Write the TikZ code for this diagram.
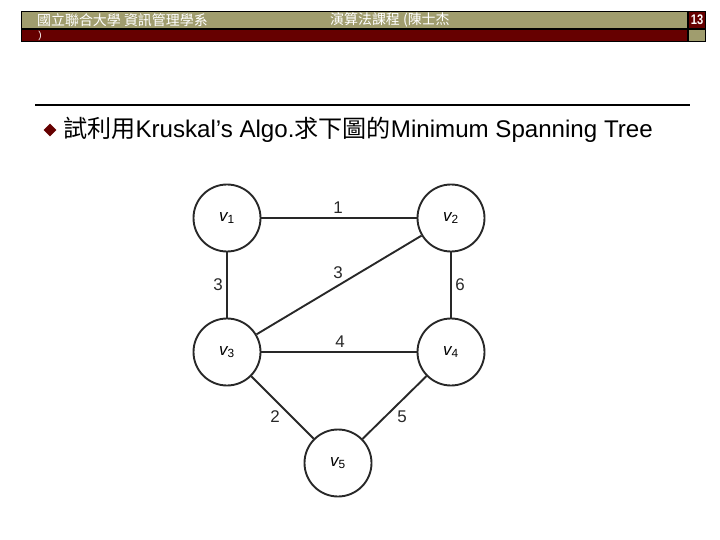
\documentclass[tikz,border=0pt]{standalone}
\usepackage{fontspec}
\setmainfont{Liberation Sans}
\newfontfamily\cjk{Noto Sans CJK TC}
\usetikzlibrary{shapes.geometric}
\definecolor{olive}{RGB}{160,157,110}
\definecolor{darkred}{RGB}{102,0,0}
\definecolor{edgegray}{RGB}{40,40,40}
\tikzset{
  vtx/.style={circle,draw=edgegray,line width=1.9pt,minimum size=67bp,inner sep=0pt,font=\fontsize{17}{17}\selectfont\itshape},
  edg/.style={draw=edgegray,line width=1.9pt},
  wlab/.style={font=\fontsize{17}{17}\selectfont,text=edgegray,inner sep=0pt},
  hdr/.style={font=\cjk\fontsize{14}{14}\selectfont,text=white,inner sep=0pt}
}
\begin{document}
\begin{tikzpicture}[x=1bp,y=-1bp]
\useasboundingbox (0,0) rectangle (720,540);
% header
\fill[black] (21,11) rectangle (706,42);
\fill[olive] (22,12) rectangle (687,28.5);
\fill[darkred] (689,12) rectangle (705,28.5);
\fill[darkred] (22,30.5) rectangle (687,41);
\fill[olive] (689,30.5) rectangle (705,41);
\node[hdr,anchor=west] (h1) at (37,20) {國立聯合大學 資訊管理學系};
\node[hdr,anchor=west] (h2) at (330,20) {演算法課程 (陳士杰};
\node[font=\fontsize{14}{14}\selectfont\bfseries,text=white,inner sep=0pt,xscale=0.8] (pg) at (697,20) {13};
\node[font=\fontsize{10}{10}\selectfont,text=white,inner sep=0pt] (par) at (40,36) {)};
% rule
\draw[line width=1.8pt] (35,105) -- (690,105);
% bullet
\node[diamond,fill=darkred,minimum size=13bp,inner sep=0pt] (bul) at (50,130) {};
\node[anchor=west,inner sep=0pt,font=\fontsize{24.2}{28}\selectfont] (title) at (63,130) {{\cjk 試利用}Kruskal’s Algo.{\cjk 求下圖的}Minimum Spanning Tree};
% graph
\node[vtx] (v1) at (227,218) {$\mathit{v}_{\mathrm{1}}$};
\node[vtx] (v2) at (451,218) {$\mathit{v}_{\mathrm{2}}$};
\node[vtx] (v3) at (227,352) {$\mathit{v}_{\mathrm{3}}$};
\node[vtx] (v4) at (451,352) {$\mathit{v}_{\mathrm{4}}$};
\node[vtx] (v5) at (338,463) {$\mathit{v}_{\mathrm{5}}$};
\draw[edg] (v1) -- (v2);
\draw[edg] (v1) -- (v3);
\draw[edg] (v2) -- (v3);
\draw[edg] (v2) -- (v4);
\draw[edg] (v3) -- (v4);
\draw[edg] (v3) -- (v5);
\draw[edg] (v4) -- (v5);
\node[wlab] (l12) at (338,208) {1};
\node[wlab] (l13) at (218,285) {3};
\node[wlab] (l23) at (338,273) {3};
\node[wlab] (l24) at (460,285) {6};
\node[wlab] (l34) at (340,342) {4};
\node[wlab] (l35) at (275,417) {2};
\node[wlab] (l45) at (402,417) {5};
\end{tikzpicture}
\end{document}
